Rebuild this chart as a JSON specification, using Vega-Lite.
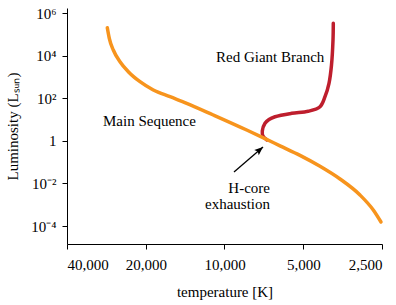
{
  "$schema": "https://vega.github.io/schema/vega-lite/v6.json",
  "width": 315,
  "height": 236,
  "autosize": "none",
  "padding": {"left": 67, "top": 8, "right": 14, "bottom": 61},
  "background": "white",
  "config": {
    "view": {"stroke": null},
    "font": "Liberation Serif",
    "axis": {
      "grid": false,
      "domainColor": "black",
      "tickColor": "black",
      "labelColor": "black",
      "titleColor": "black",
      "labelFont": "Liberation Serif",
      "titleFont": "Liberation Serif",
      "labelFontSize": 15,
      "titleFontSize": 15,
      "titleFontWeight": "normal",
      "tickSize": 5
    }
  },
  "datasets": {
    "main": [
      {"series": "Main Sequence", "i": 1, "temperature": 28054, "luminosity": 204000},
      {"series": "Main Sequence", "i": 2, "temperature": 27565, "luminosity": 64900},
      {"series": "Main Sequence", "i": 3, "temperature": 26612, "luminosity": 18300},
      {"series": "Main Sequence", "i": 4, "temperature": 25088, "luminosity": 5170},
      {"series": "Main Sequence", "i": 5, "temperature": 23320, "luminosity": 1755},
      {"series": "Main Sequence", "i": 6, "temperature": 21038, "luminosity": 595},
      {"series": "Main Sequence", "i": 7, "temperature": 18714, "luminosity": 243},
      {"series": "Main Sequence", "i": 8, "temperature": 16156, "luminosity": 117.5},
      {"series": "Main Sequence", "i": 9, "temperature": 13947, "luminosity": 57.7},
      {"series": "Main Sequence", "i": 10, "temperature": 11036, "luminosity": 16.3},
      {"series": "Main Sequence", "i": 11, "temperature": 8225, "luminosity": 3.21},
      {"series": "Main Sequence", "i": 12, "temperature": 7001, "luminosity": 1.27},
      {"series": "Main Sequence", "i": 13, "temperature": 6135, "luminosity": 0.582},
      {"series": "Main Sequence", "i": 14, "temperature": 5145, "luminosity": 0.2065},
      {"series": "Main Sequence", "i": 15, "temperature": 4314, "luminosity": 0.0635},
      {"series": "Main Sequence", "i": 16, "temperature": 3618, "luminosity": 0.0161},
      {"series": "Main Sequence", "i": 17, "temperature": 3034, "luminosity": 0.002851},
      {"series": "Main Sequence", "i": 18, "temperature": 2699, "luminosity": 0.000564},
      {"series": "Main Sequence", "i": 19, "temperature": 2522, "luminosity": 0.000154}
    ],
    "giant": [
      {"series": "Red Giant Branch", "i": 1, "temperature": 6879, "luminosity": 1.09},
      {"series": "Red Giant Branch", "i": 2, "temperature": 7126, "luminosity": 1.68},
      {"series": "Red Giant Branch", "i": 3, "temperature": 7170, "luminosity": 2.88},
      {"series": "Red Giant Branch", "i": 4, "temperature": 7001, "luminosity": 6.63},
      {"series": "Red Giant Branch", "i": 5, "temperature": 6759, "luminosity": 10},
      {"series": "Red Giant Branch", "i": 6, "temperature": 6411, "luminosity": 13.5},
      {"series": "Red Giant Branch", "i": 7, "temperature": 5535, "luminosity": 19.5},
      {"series": "Red Giant Branch", "i": 8, "temperature": 4783, "luminosity": 24.5},
      {"series": "Red Giant Branch", "i": 9, "temperature": 4314, "luminosity": 39.9},
      {"series": "Red Giant Branch", "i": 10, "temperature": 4129, "luminosity": 117.5},
      {"series": "Red Giant Branch", "i": 11, "temperature": 3986, "luminosity": 501},
      {"series": "Red Giant Branch", "i": 12, "temperature": 3899, "luminosity": 3620},
      {"series": "Red Giant Branch", "i": 13, "temperature": 3848, "luminosity": 54000},
      {"series": "Red Giant Branch", "i": 14, "temperature": 3838, "luminosity": 328000}
    ],
    "arrow": [
      {"temperature": 9198, "luminosity": 0.0343, "temperature2": 7125, "luminosity2": 0.512}
    ],
    "labelsLeft": [
      {"text": "Main Sequence", "temperature": 29130, "luminosity": 8.5},
      {"text": "Red Giant Branch", "temperature": 10776, "luminosity": 8600}
    ],
    "labelsRight": [
      {"text": "H-core", "temperature": 6700, "luminosity": 0.00608},
      {"text": "exhaustion", "temperature": 6700, "luminosity": 0.00108}
    ]
  },
  "encoding": {
    "x": {
      "field": "temperature",
      "type": "quantitative",
      "scale": {"type": "log", "domain": [2500, 40000], "reverse": true, "nice": false, "zero": false},
      "axis": {
        "title": "temperature [K]",
        "values": [40000, 20000, 10000, 5000, 2500],
        "format": ",d",
        "labelPadding": 8,
        "titlePadding": 12
      }
    },
    "y": {
      "field": "luminosity",
      "type": "quantitative",
      "scale": {"type": "log", "domain": [1.43e-5, 1.72e6], "nice": false, "zero": false},
      "axis": {
        "title": "Luminosity (Lₛᵤₙ)",
        "values": [0.0001, 0.01, 1, 100, 10000, 1000000],
        "labelExpr": "datum.value >= 1e5 ? '10⁶' : datum.value >= 1e3 ? '10⁴' : datum.value >= 10 ? '10²' : datum.value >= 0.1 ? '1' : datum.value >= 1e-3 ? '10⁻²' : '10⁻⁴'",
        "labelPadding": 6,
        "titlePadding": 10
      }
    }
  },
  "layer": [
    {
      "data": {"name": "giant"},
      "mark": {"type": "line", "strokeWidth": 3.5, "strokeCap": "round", "strokeJoin": "round", "interpolate": "catmull-rom", "color": "#BE1E2D"},
      "encoding": {
        "order": {"field": "i", "type": "quantitative"}
      }
    },
    {
      "data": {"name": "main"},
      "mark": {"type": "line", "strokeWidth": 3.5, "strokeCap": "round", "strokeJoin": "round", "interpolate": "monotone", "color": "#F7941D"},
      "encoding": {
        "order": {"field": "i", "type": "quantitative"}
      }
    },
    {
      "data": {"name": "arrow"},
      "mark": {"type": "rule", "color": "black", "strokeWidth": 1.3},
      "encoding": {
        "x2": {"field": "temperature2"},
        "y2": {"field": "luminosity2"}
      }
    },
    {
      "data": {"name": "arrow"},
      "mark": {"type": "point", "shape": "M0,0L0.4,1L0,0.8L-0.4,1Z", "filled": true, "color": "black", "opacity": 1, "size": 300, "angle": 49},
      "encoding": {
        "x": {"field": "temperature2", "type": "quantitative"},
        "y": {"field": "luminosity2", "type": "quantitative"}
      }
    },
    {
      "data": {"name": "labelsLeft"},
      "mark": {"type": "text", "align": "left", "baseline": "middle", "fontSize": 15, "font": "Liberation Serif", "color": "black"},
      "encoding": {"text": {"field": "text"}}
    },
    {
      "data": {"name": "labelsRight"},
      "mark": {"type": "text", "align": "right", "baseline": "middle", "fontSize": 15, "font": "Liberation Serif", "color": "black"},
      "encoding": {"text": {"field": "text"}}
    }
  ]
}
